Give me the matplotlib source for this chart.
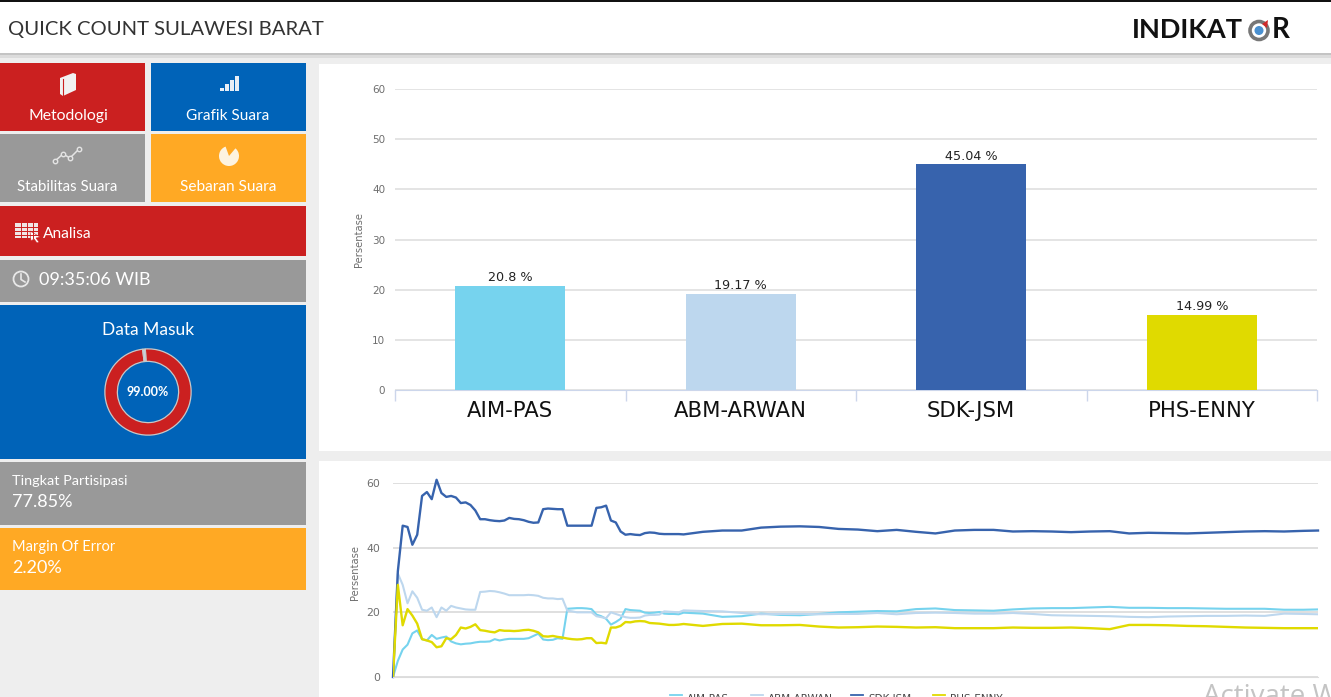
#!/usr/bin/env python3
# Quick count dashboard: left tiles, bar chart of the final result, line chart of the count over time
import matplotlib
matplotlib.use('Agg')
import matplotlib.pyplot as plt
from matplotlib.patches import Rectangle, Circle, Polygon, Wedge

W, H = 1331, 697

# data
candidates = ['AIM-PAS', 'ABM-ARWAN', 'SDK-JSM', 'PHS-ENNY']
result_pct = [20.8, 19.17, 45.04, 14.99]
bar_colors = ['#76d3ee', '#bdd7ee', '#3763ad', '#e0da00']
bar_labels = ['20.8 %', '19.17 %', '45.04 %', '14.99 %']
y_ticks = [0, 10, 20, 30, 40, 50, 60]
line_y_ticks = [0, 20, 40, 60]

data_in = [99, 1]

# update number of the count, dense at the start, coarser once the lines flatten
steps = list(range(60)) + list(range(60, 190, 4)) + [191]

sdk_jsm = [0, 32.7, 46.8, 46.4, 40.9, 44, 56, 57.2, 55, 61, 56.9, 55.7, 56, 55.5, 53.8, 54, 53.2, 51.5, 48.8, 48.8,
           48.5, 48.3, 48.2, 48.4, 49.2, 48.9, 48.8, 48.5, 48.0, 47.7, 47.8, 51.9, 52.1, 52, 51.9, 51.9, 46.8, 46.8,
           46.8, 46.8, 46.8, 46.8, 52.3, 52.5, 53.0, 48.4, 47.8, 45, 44, 44.2, 44, 43.9, 44.5, 44.7, 44.6, 44.3, 44.2,
           44.2, 44.2, 44.2,
           44.1, 44.9, 45.3, 45.3, 46.2, 46.5, 46.6, 46.4, 45.8, 45.6, 45.1, 45.5, 44.9, 44.4, 45.3, 45.5, 45.5, 45,
           45.1, 45.0, 44.8, 45, 45.1, 44.4, 44.6, 44.5, 44.4, 44.6, 44.8, 45, 45.1, 45, 45.2, 45.3]
abm_arwan = [0, 32, 28.5, 22.8, 26.5, 24.5, 20.8, 20.5, 21.5, 18.5, 21.5, 20.5, 22, 21.5, 21.2, 20.9, 20.8, 20.8, 26.3,
             26.4, 26.6, 26.5, 26.2, 25.8, 25.3, 25.3, 25.3, 25.3, 25.4, 25.3, 25.1, 24.5, 24.3, 24.3, 24.1, 24.2,
             20.5, 20.3, 20, 20, 20, 20, 18.8, 18.5, 18.2, 20, 19.5, 19, 18.5, 18.3, 18.3, 18.4, 19, 19.2, 19.2, 19.3,
             20.3, 20.2, 20.1, 20,
             20.6, 20.4, 20.3, 19.8, 19.4, 19.5, 19.5, 19.4, 19.5, 19.5, 19.8, 19.4, 19.8, 19.9, 19.8, 19.6, 19.6,
             19.8, 19.5, 19.1, 19, 18.9, 18.8, 18.6, 18.5, 18.7, 18.8, 18.9, 18.9, 19, 18.9, 19.6, 19.5, 19.4]
aim_pas = [0, 5, 8.5, 10, 13.5, 14.4, 11.7, 11.3, 13, 11.8, 12.2, 12.5, 11, 10.4, 10.1, 10.3, 10.4, 10.7, 10.9, 10.9,
           11, 11.7, 11.3, 11.6, 11.8, 11.8, 11.8, 11.8, 12, 12.7, 13.4, 11.6, 11.4, 11.5, 12, 11.8, 21.1, 21.2, 21.3,
           21.3, 21.2, 21, 19.3, 18.8, 18, 16.2, 17, 18, 21, 20.7, 20.6, 20.5, 19.9, 19.8, 19.9, 20.1, 19.6, 19.5,
           19.5, 19.4,
           19.9, 19.6, 18.6, 18.8, 19.6, 19.2, 19.1, 19.5, 20, 20.2, 20.4, 20.3, 21, 21.2, 20.7, 20.6, 20.5, 20.9,
           21.2, 21.3, 21.3, 21.5, 21.7, 21.4, 21.4, 21.3, 21.3, 21.2, 21.1, 21.1, 21.1, 20.8, 20.8, 20.9]
phs_enny = [0, 28.5, 16, 21, 19, 16.5, 11.7, 11.3, 10.8, 9.2, 9.5, 12, 11.7, 13, 15.3, 15, 15.5, 16.3, 14.5, 14.3, 14,
            13.8, 14.5, 14.3, 14.3, 14.2, 14.3, 14.5, 14.6, 14.3, 13.8, 12.6, 12.5, 12.7, 12.4, 12.2, 11.9, 11.7, 11.6,
            11.7, 12, 12, 10.5, 10.6, 10.4, 15.3, 15.3, 15.8, 17, 16.9, 17.2, 17.3, 17.2, 16.7, 16.6, 16.5, 16.3, 16.1,
            16.1, 16.2,
            16.4, 15.8, 16.4, 16.5, 16, 16, 16.1, 15.6, 15.3, 15.4, 15.6, 15.5, 15.3, 15.4, 15.1, 15.1, 15.1, 15.3,
            15.2, 15.2, 15.3, 15.1, 14.8, 16.1, 16.1, 16, 15.8, 15.7, 15.5, 15.3, 15.2, 15.1, 15.1, 15.1]

RED = '#cb2020'
BLUE = '#0063b8'
GREY = '#999999'
ORANGE = '#ffa924'
GRID = '#dcdcdc'
TICK = '#6e6e6e'
FONT = 'Lato'


def place_axes(left, top, right, bottom, **kw):
    # axes from pixel edges of the screenshot
    return fig.add_axes([left / W, 1 - bottom / H, (right - left) / W, (bottom - top) / H], **kw)


fig = plt.figure(figsize=(W / 100, H / 100), dpi=100, facecolor='#eeeeee')

# page furniture, drawn in screenshot pixels
bg = fig.add_axes([0, 0, 1, 1], zorder=0)
bg.set_xlim(0, W)
bg.set_ylim(H, 0)
bg.axis('off')


def box(x0, y0, x1, y1, color, **kw):
    bg.add_patch(Rectangle((x0, y0), x1 - x0, y1 - y0, facecolor=color, edgecolor='none', **kw))


def label(x, y, s, size, color='white', ha='center', **kw):
    bg.text(x, y, s, fontsize=size, color=color, ha=ha, va='center', family=FONT, **kw)


box(0, 0, W, 53, 'white')
box(0, 0, W, 1.5, '#111111')
box(0, 53, W, 55, '#c4c4c4')
box(0, 55, W, 58, '#dcdcdc')
label(8, 29, 'QUICK COUNT SULAWESI BARAT', 14.6, color='#333333', ha='left')

# logo
label(1132, 29.5, 'INDIKAT', 19.5, color='#111111', ha='left', fontweight='bold')
label(1272, 29.5, 'R', 20, color='#111111', ha='left', fontweight='bold')
bg.add_patch(Circle((1259, 30.5), 9, facecolor='white', edgecolor='#777777', linewidth=2.6))
bg.add_patch(Circle((1259, 30.5), 4.5, facecolor='#4a90d0', edgecolor='none'))
bg.add_patch(Polygon([(1262, 24), (1268, 20), (1267, 28)], facecolor='#cf2a2a', edgecolor='none'))

# white chart panels
box(319, 64, W, 451, 'white')
box(319, 461, W, H, 'white')

# tiles
box(0, 63, 145, 131, RED)
box(151, 63, 306, 131, BLUE)
box(0, 134, 145, 202, GREY)
box(151, 134, 306, 202, ORANGE)
box(0, 206, 306, 256, RED)
box(0, 260, 306, 302, GREY)
box(0, 305, 306, 459, BLUE)
box(0, 462, 306, 525, GREY)
box(0, 528, 306, 590, ORANGE)

label(68, 116, 'Metodologi', 11.3)
label(228, 116, 'Grafik Suara', 11.1)
label(67, 187, 'Stabilitas Suara', 10.8)
label(228, 187, 'Sebaran Suara', 11.1)
label(43, 234, 'Analisa', 11.2, ha='left')
label(39, 280, '09:35:06 WIB', 13, ha='left')
label(148, 330, 'Data Masuk', 12.5)
label(12, 481, 'Tingkat Partisipasi', 10.4, ha='left')
label(12, 502, '77.85%', 13, ha='left')
label(12, 547, 'Margin Of Error', 10.5, ha='left')
label(12, 568, '2.20%', 13, ha='left')

# tile icons
bg.add_patch(Polygon([(60, 78), (73, 73), (76, 74), (76, 90), (63, 96), (60, 94)], facecolor='#f2f2f2', edgecolor='none'))
bg.plot([63, 63], [79, 95], color=RED, lw=0.8)
for x, y_top in zip([220, 225, 230, 235], [88, 84, 80, 76]):
    box(x, y_top, x + 3.5, 91, '#e8eef6')
bg.plot([55, 63, 70, 79], [161, 154, 158, 149], color='#e4e4e4', lw=1.1, marker='o', ms=3.2, mfc=GREY, mec='#e4e4e4')
bg.add_patch(Wedge((229, 156), 10, -50, 250, facecolor='#fdf3e0', edgecolor='none'))
bg.add_patch(Wedge((227, 154), 8, 110, 170, facecolor='#fdf3e0', edgecolor='none'))
box(15, 223, 38, 238, '#f0e6e6')
for y_line in [227, 231, 235]:
    bg.plot([15, 38], [y_line, y_line], color=RED, lw=0.7)
for x_line in [21, 27, 33]:
    bg.plot([x_line, x_line], [223, 238], color=RED, lw=0.7)
bg.add_patch(Polygon([(30, 231), (40, 237), (36, 238), (39, 242), (37, 243), (34, 239), (31, 241)], facecolor='white', edgecolor=RED, lw=0.4))
bg.add_patch(Circle((21, 279), 7.5, facecolor='none', edgecolor='#e8e8e8', lw=1.3))
bg.plot([21, 21, 25], [274, 279.5, 282], color='#e8e8e8', lw=1.2)

# donut of data received
ax_donut = place_axes(104, 348, 192, 436, zorder=2)
ax_donut.pie(data_in, colors=[RED, '#c9d4df'], startangle=90 + 3.6, counterclock=False, radius=1,
             wedgeprops=dict(width=0.29, edgecolor='#c8c8c8', linewidth=0.9))
ax_donut.set_xlim(-1.02, 1.02)
ax_donut.set_ylim(-1.02, 1.02)
ax_donut.text(0, 0, '99.00%', color='white', fontsize=9, ha='center', va='center', family=FONT, fontweight='bold')

# bar chart
ax_bar = place_axes(395, 89, 1317, 390, zorder=2)
ax_bar.patch.set_alpha(0)
ax_bar.bar(range(len(candidates)), result_pct, width=0.477, color=bar_colors, zorder=3)
for i, v in enumerate(result_pct):
    ax_bar.text(i, v + 0.3, bar_labels[i], ha='center', va='bottom', fontsize=9.2, color='#222222', zorder=4)
ax_bar.set_xlim(-0.5, 3.5)
ax_bar.set_ylim(0, 60)
ax_bar.set_yticks(y_ticks)
ax_bar.set_xticks(range(len(candidates)), candidates, fontsize=15.2, color='#111111')
ax_bar.set_xticks([-0.5, 0.5, 1.5, 2.5, 3.5], minor=True)
ax_bar.tick_params(axis='x', which='major', length=0, pad=8)
ax_bar.tick_params(axis='x', which='minor', length=8, color='#ccd6eb', width=1)
ax_bar.tick_params(axis='y', length=0, labelsize=7.5, labelcolor=TICK, pad=7)
ax_bar.grid(axis='y', color=GRID, lw=1.1, zorder=0)
ax_bar.set_axisbelow(True)
for side in ['top', 'right', 'left']:
    ax_bar.spines[side].set_visible(False)
ax_bar.spines['bottom'].set_color('#ccd6eb')
ax_bar.set_ylabel('Persentase', fontsize=7.2, color=TICK, labelpad=6)

# line chart
ax_line = place_axes(393, 483, 1318, 677, zorder=2)
ax_line.patch.set_alpha(0)
ax_line.plot(steps, aim_pas, color=bar_colors[0], lw=1.5, label=candidates[0])
ax_line.plot(steps, abm_arwan, color=bar_colors[1], lw=1.5, label=candidates[1])
ax_line.plot(steps, sdk_jsm, color=bar_colors[2], lw=1.7, label=candidates[2], clip_on=False)
ax_line.plot(steps, phs_enny, color=bar_colors[3], lw=1.7, label=candidates[3])
ax_line.set_xlim(0, 191)
ax_line.set_ylim(0, 60)
ax_line.set_yticks(line_y_ticks)
ax_line.set_xticks([])
ax_line.tick_params(axis='y', length=0, labelsize=7.8, labelcolor=TICK, pad=9)
ax_line.grid(axis='y', color=GRID, lw=1.3)
ax_line.set_axisbelow(True)
for side in ['top', 'right', 'left']:
    ax_line.spines[side].set_visible(False)
ax_line.spines['bottom'].set_color(GRID)
ax_line.set_ylabel('Persentase', fontsize=7.2, color=TICK)
ax_line.yaxis.set_label_coords(-0.0357, 0.54)
for line, lx in zip(ax_line.get_lines(), [687, 768, 868, 950]):
    bg.plot([lx - 17, lx - 5], [695, 695], color=line.get_color(), lw=1.3)
    bg.text(lx, 699, line.get_label(), fontsize=7.5, color='#444444', ha='left', va='center', clip_on=True)

# windows watermark, cut by the bottom of the screenshot
bg.text(1203, 697, 'Activate W', fontsize=20, color='#c4c4c4', ha='left', va='center', family='Open Sans',
        clip_on=True, zorder=5)

fig.savefig('out.png', dpi=100, facecolor=fig.get_facecolor())
